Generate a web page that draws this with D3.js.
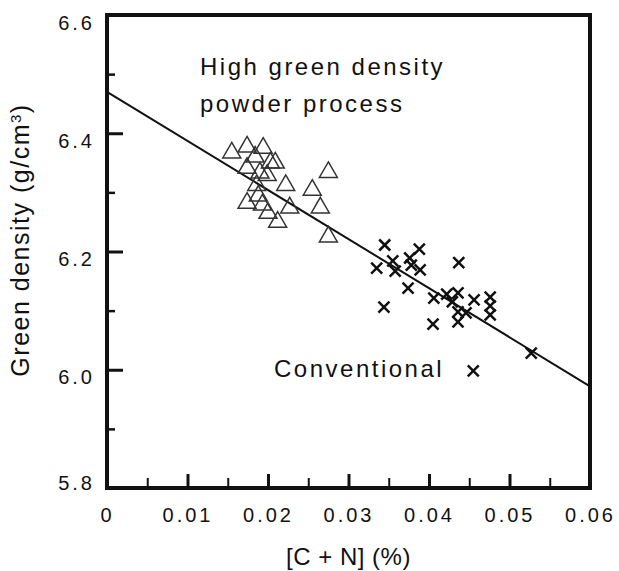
<!DOCTYPE html>
<html lang="en">
<head>
    <meta charset="UTF-8">
    <title>Green density vs [C + N]</title>
    <style>
        body {
            margin: 0;
            background: #ffffff;
        }
        svg text {
            font-family: 'Liberation Sans', Arial, sans-serif;
            fill: #111;
        }
    </style>
</head>
<body>
    <div id="chart"></div>

    <script src="https://d3js.org/d3.v7.min.js"></script>
    <script>
        // High green density powder process (triangles)
        const triX = [0.0155, 0.0174, 0.0194, 0.0184, 0.0203, 0.0174, 0.0190, 0.0186, 0.0222, 0.0174,
                      0.0188, 0.0193, 0.0212, 0.0200, 0.0227, 0.0255, 0.0275, 0.0265, 0.0275, 0.0199, 0.0209];
        const triY = [6.367, 6.377, 6.375, 6.360, 6.350, 6.341, 6.333, 6.312, 6.312, 6.282,
                      6.294, 6.279, 6.250, 6.265, 6.274, 6.304, 6.334, 6.274, 6.225, 6.329, 6.350];

        // Conventional (crosses)
        const crossX = [0.0345, 0.0335, 0.0355, 0.0358, 0.0376, 0.0388, 0.0378, 0.0389, 0.0374, 0.0344,
                        0.0437, 0.0406, 0.0422, 0.0436, 0.0429, 0.0436, 0.0436, 0.0405, 0.0456, 0.0476,
                        0.0476, 0.0476, 0.0446, 0.0527, 0.0455];
        const crossY = [6.211, 6.172, 6.184, 6.167, 6.189, 6.204, 6.177, 6.169, 6.138, 6.106,
                        6.181, 6.121, 6.128, 6.130, 6.115, 6.098, 6.081, 6.077, 6.118, 6.123,
                        6.108, 6.093, 6.096, 6.028, 5.998];

        // Regression line end points
        const fitX = [0, 0.06];
        const fitY = [6.47, 5.972];

        const xMajor = [0, 0.01, 0.02, 0.03, 0.04, 0.05, 0.06];
        const xMinor = [0.005, 0.015, 0.025, 0.035, 0.045, 0.055];
        const yMajor = [5.8, 6.0, 6.2, 6.4, 6.6];
        const yMinor = [5.9, 6.1, 6.3, 6.5];

        const width = 619, height = 571;
        const m = { left: 107, right: 590, top: 15, bottom: 488 };

        const x = d3.scaleLinear().domain([0, 0.06]).range([m.left, m.right]);
        const y = d3.scaleLinear().domain([5.8, 6.6]).range([m.bottom, m.top]);

        const svg = d3.select('#chart').append('svg')
            .attr('width', width)
            .attr('height', height);

        // ticks + labels
        const xAxis = svg.append('g')
            .attr('transform', `translate(0,${m.bottom})`)
            .call(d3.axisBottom(x).tickValues(xMajor).tickSize(-14).tickPadding(20)
                .tickFormat(d => d === 0 ? '0' : d3.format('.2f')(d)));
        xAxis.select('.domain').remove();
        xAxis.selectAll('line').attr('stroke', '#111').attr('stroke-width', 3);
        xAxis.selectAll('text')
            .style('font-size', '20px')
            .style('letter-spacing', '3px')
            .attr('fill', '#111');

        const xAxisMinor = svg.append('g')
            .attr('transform', `translate(0,${m.bottom})`)
            .call(d3.axisBottom(x).tickValues(xMinor).tickSize(-10).tickFormat(''));
        xAxisMinor.select('.domain').remove();
        xAxisMinor.selectAll('line').attr('stroke', '#111').attr('stroke-width', 2);

        const yAxis = svg.append('g')
            .attr('transform', `translate(${m.left},0)`)
            .call(d3.axisLeft(y).tickValues(yMajor).tickSize(-16).tickPadding(12)
                .tickFormat(d3.format('.1f')));
        yAxis.select('.domain').remove();
        yAxis.selectAll('line').attr('stroke', '#111').attr('stroke-width', 3);
        yAxis.selectAll('text')
            .style('font-size', '20px')
            .style('letter-spacing', '3px')
            .attr('fill', '#111')
            .attr('dy', d => d === 5.8 ? '0.05em' : '0.7em');

        const yAxisMinor = svg.append('g')
            .attr('transform', `translate(${m.left},0)`)
            .call(d3.axisLeft(y).tickValues(yMinor).tickSize(-8).tickFormat(''));
        yAxisMinor.select('.domain').remove();
        yAxisMinor.selectAll('line').attr('stroke', '#111').attr('stroke-width', 2.5);

        // frame
        svg.append('rect')
            .attr('x', m.left)
            .attr('y', m.top)
            .attr('width', m.right - m.left)
            .attr('height', m.bottom - m.top)
            .attr('fill', 'none')
            .attr('stroke', '#111')
            .attr('stroke-width', 4);

        // regression line
        const line = d3.line()
            .x(d => x(d[0]))
            .y(d => y(d[1]));
        svg.append('path')
            .datum(d3.zip(fitX, fitY))
            .attr('d', line)
            .attr('fill', 'none')
            .attr('stroke', '#111')
            .attr('stroke-width', 2);

        // triangles
        const tri = d3.symbol().type(d3.symbolTriangle).size(140);
        svg.append('g')
            .selectAll('path')
            .data(d3.zip(triX, triY))
            .enter()
            .append('path')
            .attr('d', tri)
            .attr('transform', d => `translate(${x(d[0])},${y(d[1])})`)
            .attr('fill', 'none')
            .attr('stroke', '#333')
            .attr('stroke-width', 1.5);

        // crosses
        svg.append('g')
            .selectAll('path')
            .data(d3.zip(crossX, crossY))
            .enter()
            .append('path')
            .attr('d', 'M-5.5,-5.5L5.5,5.5M-5.5,5.5L5.5,-5.5')
            .attr('transform', d => `translate(${x(d[0])},${y(d[1])})`)
            .attr('fill', 'none')
            .attr('stroke', '#111')
            .attr('stroke-width', 2.5);

        // annotations
        const notes = svg.append('g')
            .style('font-size', '24px')
            .style('letter-spacing', '2.5px');
        notes.append('text').attr('x', 200).attr('y', 75).text('High green density');
        notes.append('text').attr('x', 200).attr('y', 112).text('powder process');
        notes.append('text').attr('x', 274).attr('y', 377).text('Conventional');

        // axis titles
        svg.append('text')
            .attr('x', (m.left + m.right) / 2)
            .attr('y', 565)
            .attr('text-anchor', 'middle')
            .style('font-size', '24px')
            .style('letter-spacing', '0.5px')
            .text('[C + N] (%)');

        const yTitle = svg.append('text')
            .attr('transform', `translate(29,240) rotate(-90)`)
            .attr('text-anchor', 'middle')
            .style('font-size', '25px')
            .style('letter-spacing', '1.5px');
        yTitle.append('tspan').text('Green density (g/cm');
        yTitle.append('tspan').attr('baseline-shift', 'super').style('font-size', '15px').text('3');
        yTitle.append('tspan').text(')');
    </script>
</body>
</html>
